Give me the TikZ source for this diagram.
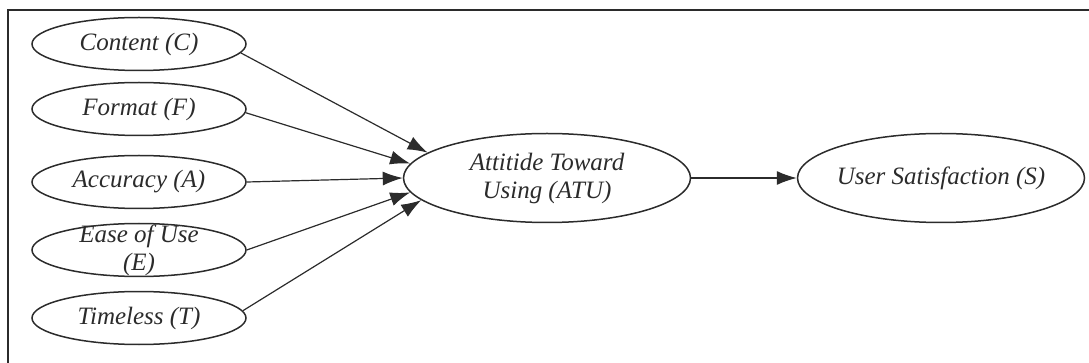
\documentclass[tikz,border=0pt]{standalone}
\usepackage{fontspec}
\setmainfont{Liberation Serif}
\usetikzlibrary{shapes.geometric,arrows.meta}

\definecolor{ink}{HTML}{2B2B2B}

\tikzset{
  var/.style={draw=ink, line width=1.5pt, ellipse, inner sep=0pt,
    minimum width=214pt, minimum height=53pt},
  big/.style={var, minimum width=287pt, minimum height=89pt},
  arr/.style={draw=ink, line width=1.2pt, -{Latex[length=20pt,width=14pt]}},
  txt/.style={font=\fontsize{25}{28}\selectfont\itshape, text=ink, align=center}
}

\begin{document}
\begin{tikzpicture}[x=1pt,y=-1pt]
\useasboundingbox (0,0) rectangle (1089,363);
% frame
\draw[ink, line width=2pt] (1089,10) -- (8,10) -- (8,363);

% the five quality factors
\foreach \n/\y/\t in {C/44/{Content (C)}, F/109/{Format (F)}, A/182/{Accuracy (A)},
                       E/250/{Ease of Use\\(E)}, T/318/{Timeless (T)}}{
  \node[var, label={[txt]center:\t}] (\n) at (139,\y) {};
}

\node[big, label={[txt]center:Attitide Toward\\Using (ATU)}] (ATU) at (547,178) {};
\node[big, label={[txt]center:User Satisfaction (S)}] (S) at (941,178) {};

\foreach \n/\a/\b in {C/-5/168, F/-2/174, A/0/180, E/0/186, T/4/190}
  \draw[arr] (\n.\a) -- (ATU.\b);
\draw[arr] (ATU) -- (S);
\end{tikzpicture}
\end{document}
